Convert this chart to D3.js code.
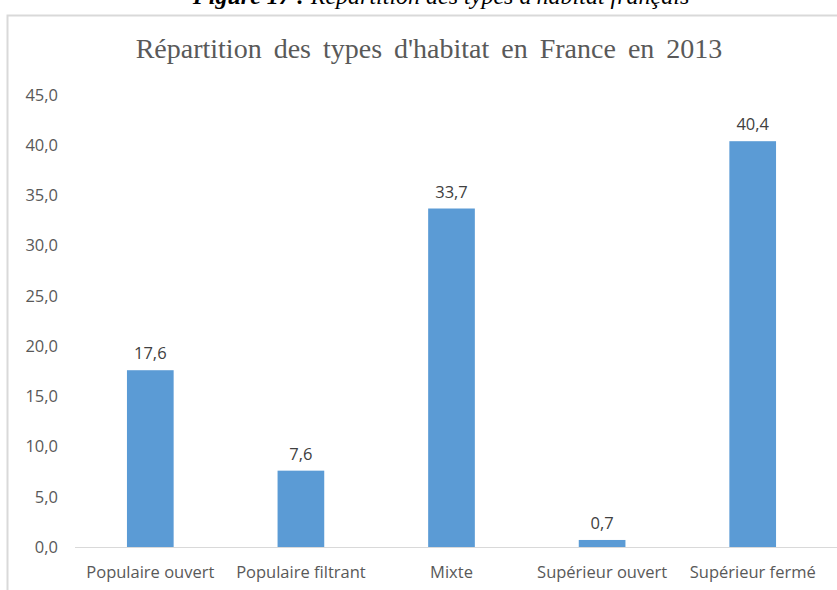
<!DOCTYPE html>
<html>
<head>
<meta charset="utf-8">
<script src="https://cdn.jsdelivr.net/npm/d3@7"></script>
<style>
  body { margin: 0; background: #fff; }
</style>
</head>
<body>
<div id="chart"></div>
<script>
const categories = ["Populaire ouvert", "Populaire filtrant", "Mixte", "Supérieur ouvert", "Supérieur fermé"];
const values = [17.6, 7.6, 33.7, 0.7, 40.4];
const yTicks = [0, 5, 10, 15, 20, 25, 30, 35, 40, 45];

const W = 837, H = 590;
const margin = { top: 95, right: 9, bottom: 43, left: 75 };
const width = W - margin.left - margin.right;
const height = H - margin.top - margin.bottom;
const fmt = d => d.toFixed(1).replace(".", ",");

const svg = d3.select("#chart")
  .append("svg")
    .attr("width", W)
    .attr("height", H);

// chart frame
svg.append("rect")
  .attr("x", 7.5).attr("y", 15.5)
  .attr("width", W + 10).attr("height", H)
  .attr("fill", "#fff")
  .attr("stroke", "#d9d9d9")
  .attr("stroke-width", 2);

// caption (cut off at the top, as in the source)
const cap = svg.append("text")
  .attr("x", 441).attr("y", 4)
  .attr("text-anchor", "middle")
  .attr("font-family", "Liberation Serif, serif")
  .attr("font-size", "24px")
  .attr("font-style", "italic")
  .attr("fill", "#000");
cap.append("tspan").attr("font-weight", "bold").text("Figure 17 : ");
cap.append("tspan").text("Répartition des types d'habitat français");

// title
svg.append("text")
  .attr("x", 429).attr("y", 58)
  .attr("text-anchor", "middle")
  .attr("font-family", "Liberation Serif, serif")
  .attr("font-size", "28px")
  .attr("fill", "#595959")
  .attr("word-spacing", "5px")
  .text("Répartition des types d'habitat en France en 2013");

const g = svg.append("g")
  .attr("transform", `translate(${margin.left}, ${margin.top})`);

const x = d3.scaleBand()
  .domain(categories)
  .range([0, width])
  .paddingInner(0.69)
  .paddingOuter(0.345);

const y = d3.scaleLinear()
  .domain([0, 45])
  .range([height, 0]);

// y axis labels
const yAxis = g.append("g")
  .call(d3.axisLeft(y).tickValues(yTicks).tickFormat(fmt).tickSize(0).tickPadding(17));
yAxis.select(".domain").remove();
yAxis.selectAll("text")
  .attr("font-family", "Open Sans, sans-serif")
  .attr("font-size", "16.5px")
  .attr("fill", "#595959");

// bars
g.selectAll("rect.bar")
  .data(values)
  .join("rect")
    .attr("class", "bar")
    .attr("x", (d, i) => x(categories[i]))
    .attr("y", d => y(d))
    .attr("width", x.bandwidth())
    .attr("height", d => height - y(d))
    .attr("fill", "#5b9bd5");

// baseline
g.append("line")
  .attr("x1", 0).attr("x2", width + 10)
  .attr("y1", height + 0.5).attr("y2", height + 0.5)
  .attr("stroke", "#d9d9d9")
  .attr("stroke-width", 1);

// x axis labels
const xAxis = g.append("g")
  .attr("transform", `translate(0, ${height})`)
  .call(d3.axisBottom(x).tickSize(0).tickPadding(19));
xAxis.select(".domain").remove();
xAxis.selectAll("text")
  .attr("font-family", "Open Sans, sans-serif")
  .attr("font-size", "16.5px")
  .attr("fill", "#595959");

// data labels
g.selectAll("text.lbl")
  .data(values)
  .join("text")
    .attr("class", "lbl")
    .attr("x", (d, i) => x(categories[i]) + x.bandwidth() / 2)
    .attr("y", d => y(d) - 11)
    .attr("text-anchor", "middle")
    .attr("font-family", "Open Sans, sans-serif")
    .attr("font-size", "16.5px")
    .attr("fill", "#404040")
    .text(fmt);
</script>
</body>
</html>
